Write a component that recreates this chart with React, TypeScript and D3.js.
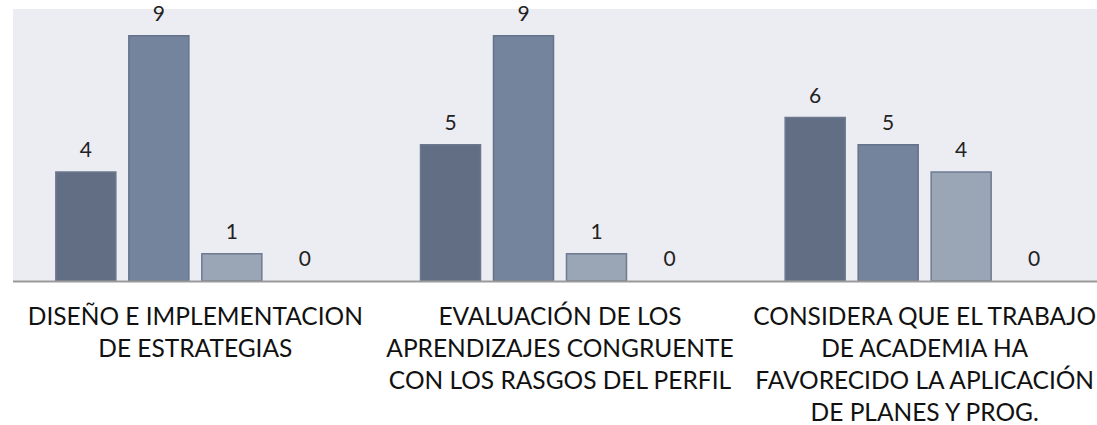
import React from "react";
import * as d3 from "d3";

const categories: string[][] = [
  ["DISEÑO E IMPLEMENTACION", "DE ESTRATEGIAS"],
  ["EVALUACIÓN DE LOS", "APRENDIZAJES CONGRUENTE", "CON LOS RASGOS DEL PERFIL"],
  ["CONSIDERA QUE EL TRABAJO", "DE ACADEMIA HA", "FAVORECIDO LA APLICACIÓN", "DE PLANES Y PROG."],
];
const seriesNames = ["S1", "S2", "S3", "S4"];
const series1 = [4, 5, 6];
const series2 = [9, 9, 5];
const series3 = [1, 1, 4];
const series4 = [0, 0, 0];
const seriesValues = [series1, series2, series3, series4];
const fills = ["#616e83", "#74849c", "#9aa5b6", "#b8c0cc"];
const strokes = ["#6b788e", "#65738a", "#6e7b91", "#8a95a6"];

const W = 1097;
const H = 425;
const FONT = "Lato, 'Open Sans', sans-serif";

export default function App() {
  const x0 = d3.scaleBand<number>().domain(d3.range(categories.length)).range([13, 1107]).paddingInner(0).paddingOuter(0);
  const x1 = d3.scaleBand<number>().domain(d3.range(seriesNames.length)).range([0, x0.bandwidth()]).paddingInner(0.178).paddingOuter(0.587);
  const y = d3.scaleLinear().domain([0, 10]).range([281, 8.5]);

  return (
    <div style={{ position: "fixed", left: 0, top: 0 }}>
      <svg width={W} height={H} style={{ display: "block", background: "#ffffff" }}>
        <rect x={13} y={9} width={W - 13} height={y(0) - 9} fill="#ecedf2" />
        {categories.map((_, ci) =>
          seriesValues.map((vals, si) => {
            const v = vals[ci];
            const bx = (x0(ci) as number) + (x1(si) as number);
            const bw = x1.bandwidth();
            return (
              <g key={`${ci}-${si}`}>
                {v > 0 && (
                  <rect
                    x={bx}
                    y={y(v)}
                    width={bw}
                    height={y(0) - y(v)}
                    fill={fills[si]}
                    stroke={strokes[si]}
                    strokeWidth={1.5}
                  />
                )}
                <text
                  x={bx + bw / 2}
                  y={y(v) - 15}
                  textAnchor="middle"
                  fontFamily={FONT}
                  fontSize={21}
                  fill="#222"
                >
                  {v}
                </text>
              </g>
            );
          })
        )}
        <line x1={13} x2={W} y1={y(0) + 0.5} y2={y(0) + 0.5} stroke="#9a9a9a" strokeWidth={2} />
        {categories.map((lines, ci) => (
          <text
            key={ci}
            x={(x0(ci) as number) + x0.bandwidth() / 2}
            textAnchor="middle"
            fontFamily={FONT}
            fontSize={24.5}
            fill="#111"
          >
            {lines.map((ln, li) => (
              <tspan key={li} x={(x0(ci) as number) + x0.bandwidth() / 2} y={325 + li * 32}>
                {ln}
              </tspan>
            ))}
          </text>
        ))}
      </svg>
    </div>
  );
}
